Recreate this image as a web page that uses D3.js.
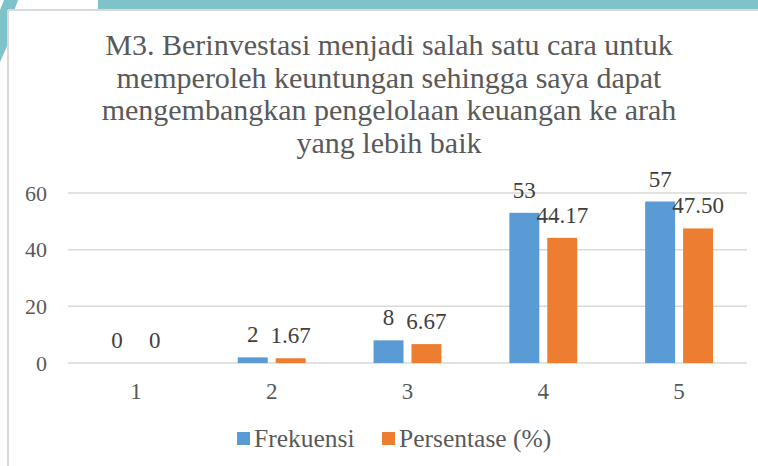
<!DOCTYPE html>
<html>
<head>
<meta charset="utf-8">
<script src="https://cdn.jsdelivr.net/npm/d3@7"></script>
</head>
<body style="margin:0">
<script>
const categories = ["1", "2", "3", "4", "5"];
const frekuensi = [0, 2, 8, 53, 57];
const persentase = [0, 1.67, 6.67, 44.17, 47.50];
const yTicks = [0, 20, 40, 60];
const seriesNames = ["Frekuensi", "Persentase (%)"];
const titleLines = [
  "M3. Berinvestasi menjadi salah satu cara untuk",
  "memperoleh keuntungan sehingga saya dapat",
  "mengembangkan pengelolaan keuangan ke arah",
  "yang lebih baik"
];

const W = 758, H = 466;
const FONT = "'Liberation Serif', 'Times New Roman', serif";
const colors = ["#5b9bd5", "#ed7d31"];
const textColor = "#595959";
const margin = { top: 193, right: 11, bottom: 103, left: 68 };

const svg = d3.select("body").append("svg")
  .attr("width", W)
  .attr("height", H);

// slide background bits behind the chart card
svg.append("rect").attr("x", 98).attr("y", 0).attr("width", W - 98).attr("height", 10).attr("fill", "#7fc3ca");
svg.append("path")
  .attr("d", "M4,0 L18,0 L8,28 L8,44 L0,62 L0,10 Z")
  .attr("fill", "#7fc3ca");

// card
svg.append("rect").attr("x", 8).attr("y", 10).attr("width", W - 8).attr("height", H - 10).attr("fill", "#fff");
svg.append("line").attr("x1", 8).attr("x2", W).attr("y1", 10).attr("y2", 10)
  .attr("stroke", "#d9d9d9").attr("stroke-width", 2);
svg.append("line").attr("x1", 8).attr("x2", 8).attr("y1", 10).attr("y2", H)
  .attr("stroke", "#d9d9d9").attr("stroke-width", 2);

// title
titleLines.forEach((line, i) => {
  svg.append("text")
    .attr("x", 389)
    .attr("y", 55 + i * 32.5)
    .attr("text-anchor", "middle")
    .attr("fill", textColor)
    .attr("font-family", FONT)
    .attr("font-size", 30)
    .text(line);
});

const x = d3.scaleBand()
  .domain(categories)
  .range([margin.left, W - margin.right])
  .padding(0);

const y = d3.scaleLinear()
  .domain([0, 60])
  .range([H - margin.bottom, margin.top]);

// gridlines
svg.append("g")
  .selectAll("line")
  .data(yTicks)
  .join("line")
  .attr("x1", margin.left)
  .attr("x2", W - margin.right)
  .attr("y1", d => y(d))
  .attr("y2", d => y(d))
  .attr("stroke", "#d9d9d9")
  .attr("stroke-width", 1.5);

// y axis
const yAxis = svg.append("g")
  .attr("transform", `translate(${margin.left - 21},0)`)
  .call(d3.axisLeft(y).tickValues(yTicks).tickSize(0).tickPadding(0));
yAxis.select(".domain").remove();
yAxis.selectAll("text")
  .attr("fill", textColor)
  .attr("font-family", FONT)
  .attr("font-size", 22);

// x axis
const xAxis = svg.append("g")
  .attr("transform", `translate(0,${H - margin.bottom})`)
  .call(d3.axisBottom(x).tickSize(0).tickPadding(20));
xAxis.select(".domain").remove();
xAxis.selectAll("text")
  .attr("fill", textColor)
  .attr("font-family", FONT)
  .attr("font-size", 23);

// bars
const groupW = x.bandwidth() * 0.5;
const x1 = d3.scaleBand()
  .domain([0, 1])
  .range([-groupW / 2, groupW / 2])
  .paddingInner(0.21);

const rows = categories.map((c, i) => ({ cat: c, vals: [frekuensi[i], persentase[i]] }));

const groups = svg.append("g").selectAll("g")
  .data(rows)
  .join("g")
  .attr("transform", d => `translate(${x(d.cat) + x.bandwidth() / 2},0)`);

groups.selectAll("rect")
  .data(d => d.vals.map((v, s) => ({ v, s })))
  .join("rect")
  .attr("x", d => x1(d.s))
  .attr("width", x1.bandwidth())
  .attr("y", d => y(d.v))
  .attr("height", d => y(0) - y(d.v))
  .attr("fill", d => colors[d.s]);

groups.selectAll("text")
  .data(d => d.vals.map((v, s) => ({ v, s })))
  .join("text")
  .attr("x", d => x1(d.s) + x1.bandwidth() / 2)
  .attr("y", d => y(d.v) - 15)
  .attr("text-anchor", "middle")
  .attr("fill", "#404040")
  .attr("font-family", FONT)
  .attr("font-size", 23)
  .text(d => d.s === 0 || d.v === 0 ? String(d.v) : d.v.toFixed(2));

// legend
const legendX = [237, 382];
seriesNames.forEach((name, i) => {
  svg.append("rect")
    .attr("x", legendX[i]).attr("y", 432)
    .attr("width", 13).attr("height", 13)
    .attr("fill", colors[i]);
  svg.append("text")
    .attr("x", legendX[i] + 17).attr("y", 447)
    .attr("fill", textColor)
    .attr("font-family", FONT)
    .attr("font-size", 25.5)
    .text(name);
});
</script>
</body>
</html>
